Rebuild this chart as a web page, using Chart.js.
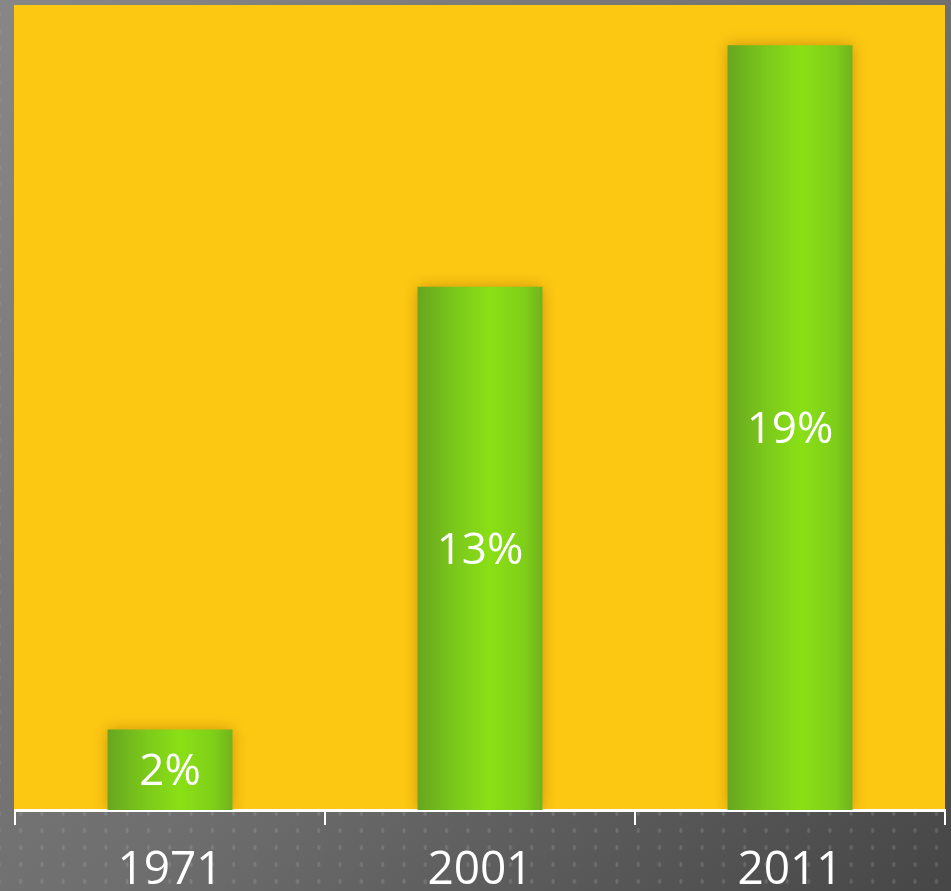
<!DOCTYPE html>
<html>
<head>
<meta charset="utf-8">
<script src="https://cdn.jsdelivr.net/npm/chart.js@4.4.1/dist/chart.umd.min.js"></script>
<style>
  html, body {
    margin: 0;
    padding: 0;
    width: 951px;
    height: 891px;
    overflow: hidden;
  }
  body {
    background-color: #656565;
    background-image:
      radial-gradient(ellipse 1.2px 2px at center, rgba(190,190,190,0.22) 0, rgba(190,190,190,0.22) 1px, transparent 2px),
      linear-gradient(135deg, #878787 0%, #6e6e6e 55%, #464646 100%);
    background-size: 21.3px 17px, 100% 100%;
    background-position: 10px 6px, 0 0;
  }
  #wrap {
    position: absolute;
    left: 0;
    top: 0;
    width: 951px;
    height: 891px;
  }
</style>
</head>
<body>
<div id="wrap"><canvas id="barChart"></canvas></div>
<script>
const years = ['1971', '2001', '2011'];
const shares = [2, 13, 19];
const yMax = 20;

const BAR_PCT = 0.403;

// fondo amarillo del área del gráfico
const areaBg = {
  id: 'areaBg',
  beforeDraw(chart) {
    const { ctx, chartArea: a } = chart;
    ctx.save();
    ctx.fillStyle = '#fcc812';
    ctx.fillRect(a.left - 1, 5, a.right - a.left + 1, a.bottom - 5);
    ctx.restore();
  }
};

// sombra de las barras
const barShadow = {
  id: 'barShadow',
  beforeDatasetDraw(chart) {
    const ctx = chart.ctx;
    ctx.save();
    ctx.shadowColor = 'rgba(140, 80, 0, 0.45)';
    ctx.shadowBlur = 14;
    ctx.shadowOffsetX = 0;
    ctx.shadowOffsetY = 0;
  },
  afterDatasetDraw(chart) {
    chart.ctx.restore();
  }
};

// etiquetas dentro de las barras
const barLabels = {
  id: 'barLabels',
  afterDatasetsDraw(chart) {
    const ctx = chart.ctx;
    const meta = chart.getDatasetMeta(0);
    ctx.save();
    ctx.fillStyle = '#ffffff';
    ctx.font = '44px "Open Sans"';
    ctx.textAlign = 'center';
    ctx.textBaseline = 'middle';
    meta.data.forEach((bar, i) => {
      const y = (bar.y + bar.base) / 2 + 3;
      ctx.fillText(shares[i] + '%', bar.x, y);
    });
    ctx.restore();
  }
};

function barGradient(context) {
  const chart = context.chart;
  const xs = chart.scales.x;
  if (!chart.chartArea || !xs) return '#86d418';
  const cx = xs.getPixelForValue(context.dataIndex);
  const w = (xs.width / years.length) * BAR_PCT;
  const g = chart.ctx.createLinearGradient(cx - w / 2, 0, cx + w / 2, 0);
  g.addColorStop(0, '#67a61f');
  g.addColorStop(0.3, '#7bc81b');
  g.addColorStop(0.58, '#8ae016');
  g.addColorStop(0.85, '#7fcf19');
  g.addColorStop(1, '#70b41d');
  return g;
}

const ctx = document.getElementById('barChart').getContext('2d');

const data = {
  labels: years,
  datasets: [{
    data: shares,
    backgroundColor: barGradient,
    borderWidth: 0,
    barPercentage: BAR_PCT,
    categoryPercentage: 1
  }]
};

const config = {
  type: 'bar',
  data: data,
  options: {
    responsive: true,
    maintainAspectRatio: false,
    animation: false,
    layout: {
      padding: { left: 15, right: 6, top: 5, bottom: 0 }
    },
    plugins: {
      legend: { display: false },
      tooltip: { enabled: false }
    },
    scales: {
      y: {
        display: false,
        min: 0,
        max: yMax
      },
      x: {
        afterFit(scale) { scale.height = 81; },
        grid: {
          display: true,
          drawOnChartArea: false,
          drawTicks: true,
          tickLength: 15,
          color: '#ffffff',
          lineWidth: 2
        },
        border: {
          display: true,
          color: '#ffffff',
          width: 3
        },
        ticks: {
          color: '#ffffff',
          padding: 18,
          font: { family: '"Open Sans"', size: 46 }
        }
      }
    }
  },
  plugins: [areaBg, barShadow, barLabels]
};

const barChart = new Chart(ctx, config);
</script>
</body>
</html>
